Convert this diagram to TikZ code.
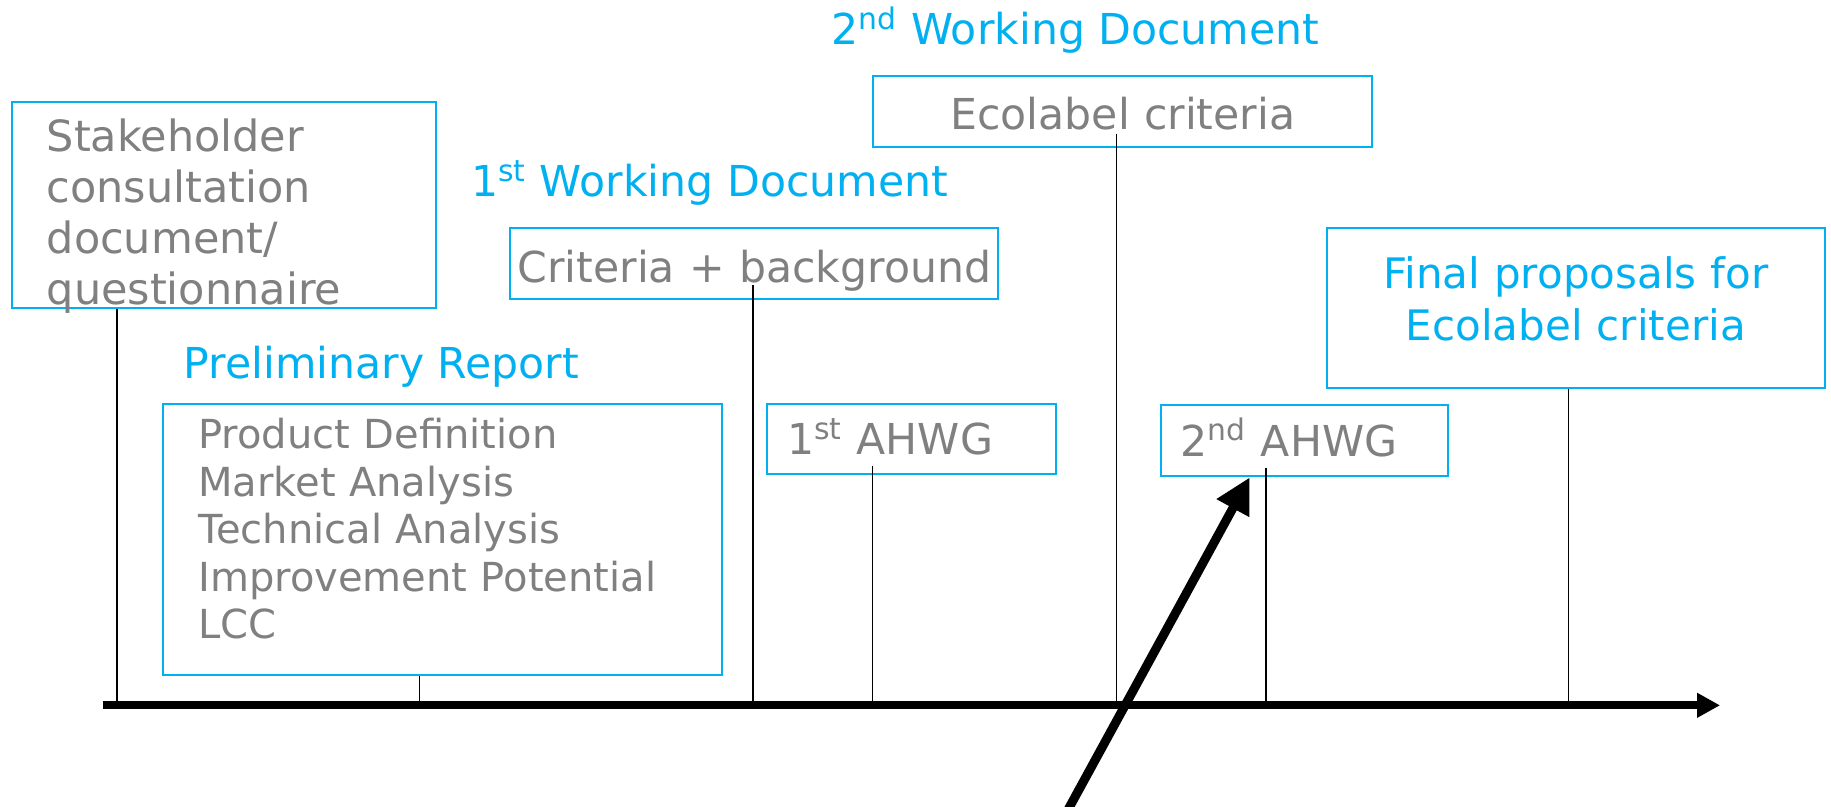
\documentclass[tikz,border=0pt]{standalone}
\usepackage{fontspec}
\setmainfont{DejaVu Sans}
\usetikzlibrary{arrows.meta,calc}
\definecolor{ecoblue}{RGB}{0,176,240}
\definecolor{txtgray}{RGB}{128,128,128}

\begin{document}
\begin{tikzpicture}[x=0.5838pt, y=-0.5838pt, font=\fontsize{21.3}{23.8}\selectfont,
            box/.style = {draw=ecoblue, line width=1pt, text=txtgray, inner sep=0pt, align=left},
            heading/.style = {text=ecoblue, inner sep=0pt, anchor=base west},
            tick/.style = {line width=0.75pt},
            axis/.style = {line width=4pt, -{Triangle[length=11.5pt, width=11.7pt]}},
            push/.style = {line width=4.5pt, -{Triangle[length=17.5pt, width=17.5pt]}}]
            \useasboundingbox (0,0) rectangle (1568,691);
            \node[box, font=\fontsize{21.5}{25.5}\selectfont, inner xsep=17.5pt, text width=176.9pt, text height=24.8pt, text depth=78.5pt] (stake) at (191.5,175.5) {Stakeholder\\consultation\\document/\\questionnaire};
            \node[heading] (prelimT) at (157,324) {Preliminary Report};
            \node[box, font=\fontsize{20}{23.8}\selectfont, inner xsep=17.5pt, text width=244.1pt, text height=22.2pt, text depth=113.2pt] (prelim) at (379,462) {Product Definition\\Market Analysis\\Technical Analysis\\Improvement Potential\\LCC};
            \node[heading] (wdA) at (403,168.4) {1\textsuperscript{st} Working Document};
            \node[box, align=center, text width=244pt, text height=27.2pt, text depth=8.4pt] (crit) at (646,225.5) {Criteria + background};
            \node[heading] (wdB) at (712,38.5) {2\textsuperscript{nd} Working Document};
            \node[box, align=center, text width=249.3pt, text height=27pt, text depth=8.4pt] (eco) at (961.5,95.3) {Ecolabel criteria};
            \node[box, inner xsep=10pt, text width=124.2pt, text height=25.4pt, text depth=9.6pt] (ahwgA) at (780.5,376) {1\textsuperscript{st} AHWG};
            \node[box, inner xsep=10pt, text width=123.6pt, text height=25.4pt, text depth=10.2pt] (ahwgB) at (1117,377.5) {2\textsuperscript{nd} AHWG};
            \node[box, text=ecoblue, align=center, font=\fontsize{21}{25.9}\selectfont, text width=249.3pt, text height=30.3pt, text depth=49.7pt] (final) at (1349.5,263.5) {Final proposals for\\Ecolabel criteria};
            % time line
            \coordinate (t0) at (88,604);
            \coordinate (t1) at (1473,604);
            \draw[axis] (t0) -- (t1);
            \draw[tick] ($(stake.south west)+(91,0)$) coordinate (s1) -- (s1 |- t0);
            \draw[tick] ($(prelim.south west)+(220,0)$) coordinate (s2) -- (s2 |- t0);
            \draw[tick] ($(crit.south)+(-1,-13)$) coordinate (s3) -- (s3 |- t0);
            \draw[tick] ($(eco.south)+(-5.5,-12)$) coordinate (s4) -- (s4 |- t0);
            \draw[tick] ($(ahwgA.south west)+(91,-8)$) coordinate (s5) -- (s5 |- t0);
            \draw[tick] ($(ahwgB.south west)+(91,-8)$) coordinate (s6) -- (s6 |- t0);
            \draw[tick] ($(final.south)+(-6.5,0)$) coordinate (s7) -- (s7 |- t0);
            % we are here
            \coordinate (p0) at (911,700);
            \draw[push] (p0) -- ($(ahwgB.south west)+(77,0)$);
        \end{tikzpicture}
\end{document}
